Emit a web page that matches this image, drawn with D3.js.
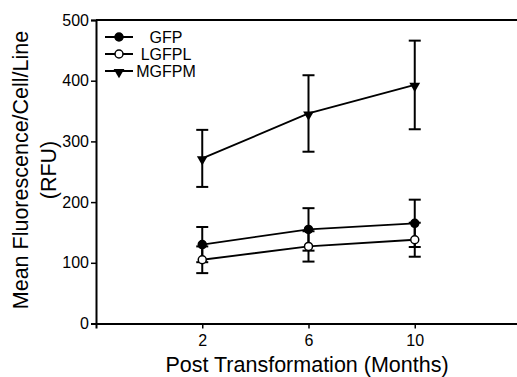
<!DOCTYPE html>
<html>
<head>
<meta charset="utf-8">
<script src="https://cdn.jsdelivr.net/npm/d3@7"></script>
<style>
  body { margin: 0; background: #fff; }
  svg text { font-family: Arial, "Liberation Sans", sans-serif; fill: #000; }
</style>
</head>
<body>
<div id="chart"></div>
<script>
// mois après transformation
const months = [2, 6, 10]
const xTicks = [2, 6, 10]
const yTicks = [0, 100, 200, 300, 400, 500]

// moyennes et barres d'erreur
const gfp = [130, 155, 165]
const gfpErr = [29, 35, 39]
const lgfpl = [105, 127, 138]
const lgfplErr = [22, 25, 28]
const mgfpm = [272, 346, 393]
const mgfpmErr = [47, 63, 73]

const series = [
  { name: "GFP", values: gfp, err: gfpErr, marker: "filled" },
  { name: "LGFPL", values: lgfpl, err: lgfplErr, marker: "open" },
  { name: "MGFPM", values: mgfpm, err: mgfpmErr, marker: "triangle" }
]

const W = 517, H = 377
const margin = { top: 20, right: 0, bottom: 54, left: 96 }

const svg = d3.select("#chart")
  .append("svg")
  .attr("width", W)
  .attr("height", H)

const x = d3.scaleLinear().domain([-2, 14]).range([margin.left, margin.left + 425])
const y = d3.scaleLinear().domain([0, 500]).range([H - margin.bottom + 0.5, margin.top])

// axes
svg.append("g")
  .attr("transform", `translate(0,${y(0)})`)
  .call(d3.axisBottom(x).tickValues(xTicks).tickSize(5).tickPadding(6))
  .call(g => g.select(".domain").attr("stroke-width", 2))
  .call(g => g.selectAll(".tick line").attr("stroke-width", 1.5))
  .call(g => g.selectAll(".tick text").attr("font-size", 16))

svg.append("g")
  .attr("transform", `translate(${margin.left},0)`)
  .call(d3.axisLeft(y).tickValues(yTicks).tickSize(5).tickPadding(2))
  .call(g => g.select(".domain").attr("stroke-width", 2))
  .call(g => g.selectAll(".tick line").attr("stroke-width", 1.5))
  .call(g => g.selectAll(".tick text").attr("font-size", 16))

// cadre du haut
svg.append("line")
  .attr("x1", margin.left).attr("x2", W)
  .attr("y1", y(500)).attr("y2", y(500))
  .attr("stroke", "#000").attr("stroke-width", 2)

function drawMarker(g, type, cx, cy) {
  if (type === "triangle") {
    g.append("path")
      .attr("d", d3.symbol().type(d3.symbolTriangle).size(50)())
      .attr("transform", `translate(${cx},${cy + 1}) rotate(180)`)
      .attr("fill", "#000")
  } else {
    g.append("circle")
      .attr("cx", cx).attr("cy", cy).attr("r", 4)
      .attr("fill", type === "filled" ? "#000" : "#fff")
      .attr("stroke", "#000").attr("stroke-width", 1.5)
  }
}

const line = d3.line().x(d => x(d[0])).y(d => y(d[1]))

series.forEach(s => {
  const g = svg.append("g")
  const pts = months.map((m, i) => [m, s.values[i]])

  // barres d'erreur
  months.forEach((m, i) => {
    const top = y(s.values[i] + s.err[i]), bot = y(s.values[i] - s.err[i])
    g.append("line").attr("x1", x(m)).attr("x2", x(m)).attr("y1", top).attr("y2", bot)
      .attr("stroke", "#000").attr("stroke-width", 2)
    ;[top, bot].forEach(yy => {
      g.append("line").attr("x1", x(m) - 6).attr("x2", x(m) + 6).attr("y1", yy).attr("y2", yy)
        .attr("stroke", "#000").attr("stroke-width", 2)
    })
  })

  g.append("path")
    .datum(pts)
    .attr("d", line)
    .attr("fill", "none")
    .attr("stroke", "#000")
    .attr("stroke-width", 1.8)

  pts.forEach(p => drawMarker(g, s.marker, x(p[0]), y(p[1])))
})

// légende
series.forEach((s, i) => {
  const ly = 37 + i * 17
  const g = svg.append("g")
  g.append("line").attr("x1", 105).attr("x2", 133).attr("y1", ly).attr("y2", ly)
    .attr("stroke", "#000").attr("stroke-width", 2)
  drawMarker(g, s.marker, 119, ly)
  g.append("text")
    .attr("x", 166).attr("y", ly + 6)
    .attr("text-anchor", "middle")
    .attr("font-size", 16)
    .text(s.name)
})

// titres des axes
svg.append("text")
  .attr("x", 307).attr("y", 372)
  .attr("text-anchor", "middle")
  .attr("font-size", 21.5)
  .text("Post Transformation (Months)")

svg.append("text")
  .attr("transform", "translate(28,170) rotate(-90)")
  .attr("text-anchor", "middle")
  .attr("font-size", 21.5)
  .text("Mean Fluorescence/Cell/Line")

svg.append("text")
  .attr("transform", "translate(56,170) rotate(-90)")
  .attr("text-anchor", "middle")
  .attr("font-size", 21.5)
  .text("(RFU)")
</script>
</body>
</html>
